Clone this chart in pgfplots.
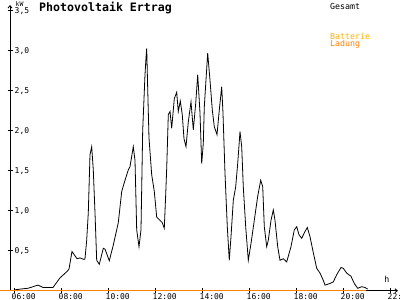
\documentclass[border=0pt]{standalone}
\usepackage{fontspec}
\setmainfont{DejaVu Sans Mono}
\usepackage{pgfplots}
\pgfplotsset{compat=1.18}
\usetikzlibrary{calc,arrows.meta}
\definecolor{ladung}{HTML}{FF8000}
\definecolor{batterie}{HTML}{FFB000}
\begin{document}
\begin{tikzpicture}
\begin{axis}[
  name=ax,
  at={(0,0)}, anchor=south west,
  scale only axis,
  width=388bp, height=285.7bp,
  xmin=5.809, xmax=22.319,
  ymin=0, ymax=3.571,
  axis lines=left,
  axis line style={line width=0.8bp, -{Straight Barb[length=2.5bp,width=4bp]}},
  clip=false,
  tick align=center,
  major tick length=5bp,
  tick style={line width=0.8bp, black},
  xtick={6,8,...,22},
  xticklabels={06:00,08:00,10:00,12:00,14:00,16:00,18:00,20:00,22:00},
  ytick={0.5,1,1.5,2,2.5,3,3.5},
  yticklabels={{0,5},{1,0},{1,5},{2,0},{2,5},{3,0},{3,5}},
  /pgf/number format/assume math mode=true,
  every tick label/.append style={font=\fontsize{8bp}{10bp}\selectfont, inner sep=0pt},
  yticklabel style={anchor=west, xshift=7bp},
  xticklabel style={anchor=north west, xshift=-3bp, yshift=-0.4bp},
]
\addplot[black, line width=0.8bp] coordinates {
(6.0,0.01) (6.234,0.02) (6.574,0.03) (7.0,0.07) (7.213,0.04) (7.638,0.04)
(7.936,0.16) (8.234,0.24) (8.319,0.27) (8.447,0.49) (8.660,0.40) (8.787,0.41)
(8.957,0.39) (9.0,0.40) (9.072,0.63) (9.14,0.97) (9.213,1.70) (9.285,1.80)
(9.353,1.51) (9.426,0.97) (9.498,0.38) (9.609,0.33) (9.779,0.53) (9.851,0.52)
(10.034,0.375) (10.204,0.57) (10.417,0.85) (10.562,1.24) (10.702,1.38)
(10.843,1.51) (10.915,1.55) (11.055,1.80) (11.128,1.63) (11.2,0.76)
(11.298,0.55) (11.383,0.76) (11.455,2.0) (11.553,2.70) (11.596,2.91)
(11.626,3.03) (11.668,2.53) (11.723,1.91) (11.838,1.45) (11.949,1.24)
(12.051,0.92) (12.191,0.88) (12.289,0.85) (12.374,0.78) (12.434,1.20)
(12.477,1.53) (12.545,2.20) (12.617,2.24) (12.689,2.03) (12.8,2.40)
(12.902,2.48) (12.970,2.24) (13.055,2.37) (13.140,2.20) (13.213,1.90)
(13.298,1.80) (13.396,2.11) (13.511,2.36) (13.609,2.01) (13.711,2.34)
(13.796,2.70) (13.894,2.22) (13.966,1.59) (14.034,1.84) (14.077,2.30)
(14.221,2.97) (14.319,2.63) (14.417,2.26) (14.502,2.05) (14.617,1.95)
(14.715,2.26) (14.817,2.55) (14.872,2.22) (14.957,1.47) (15.055,0.80)
(15.140,0.38) (15.213,0.675) (15.311,1.13) (15.413,1.30) (15.498,1.59)
(15.596,1.99) (15.668,1.80) (15.736,1.30) (15.838,0.80) (15.949,0.38)
(16.064,0.59) (16.204,0.88) (16.349,1.18) (16.477,1.38) (16.562,1.30)
(16.630,0.80) (16.732,0.55) (16.8,0.63) (16.915,0.88) (17.013,1.01)
(17.085,0.88) (17.2,0.55) (17.298,0.38) (17.438,0.40) (17.583,0.36)
(17.766,0.55) (17.906,0.76) (18.009,0.80) (18.106,0.70) (18.221,0.655)
(18.362,0.74) (18.460,0.79) (18.574,0.675) (18.719,0.47) (18.860,0.28)
(19.0,0.22) (19.140,0.13) (19.213,0.07) (19.426,0.09) (19.566,0.11)
(19.711,0.20) (19.894,0.29) (19.991,0.28) (20.136,0.22) (20.319,0.18)
(20.460,0.09) (20.604,0.03) (20.774,0.05) (20.915,0.04) (21.03,0.02)
};
\addplot[ladung, line width=1.5bp] coordinates {(5.383,0) (20.96,0)};
\node[anchor=west, inner sep=0pt, font=\bfseries\fontsize{11.6bp}{13bp}\selectfont] at (rel axis cs:0.0747,0.9895) {Photovoltaik Ertrag};
\node[inner sep=0pt, font=\fontsize{6.5bp}{7bp}\selectfont] at (rel axis cs:0.0245,1.003) {kW};
\node[inner sep=0pt, font=\fontsize{8.3bp}{10bp}\selectfont] at (rel axis cs:0.971,0.039) {h};
\node[anchor=west, inner sep=0pt, font=\fontsize{8.3bp}{10bp}\selectfont] at (rel axis cs:0.8247,0.9965) {Gesamt};
\node[anchor=west, inner sep=0pt, text=batterie, font=\fontsize{8.3bp}{10bp}\selectfont] at (rel axis cs:0.8247,0.8915) {Batterie};
\node[anchor=west, inner sep=0pt, text=ladung, font=\fontsize{8.3bp}{10bp}\selectfont] at (rel axis cs:0.8247,0.8635) {Ladung};
\end{axis}
\pgfresetboundingbox
\path[use as bounding box] ($(ax.south west)+(-10bp,-9.3bp)$) rectangle ($(ax.north east)+(2bp,5bp)$);
\end{tikzpicture}
\end{document}
